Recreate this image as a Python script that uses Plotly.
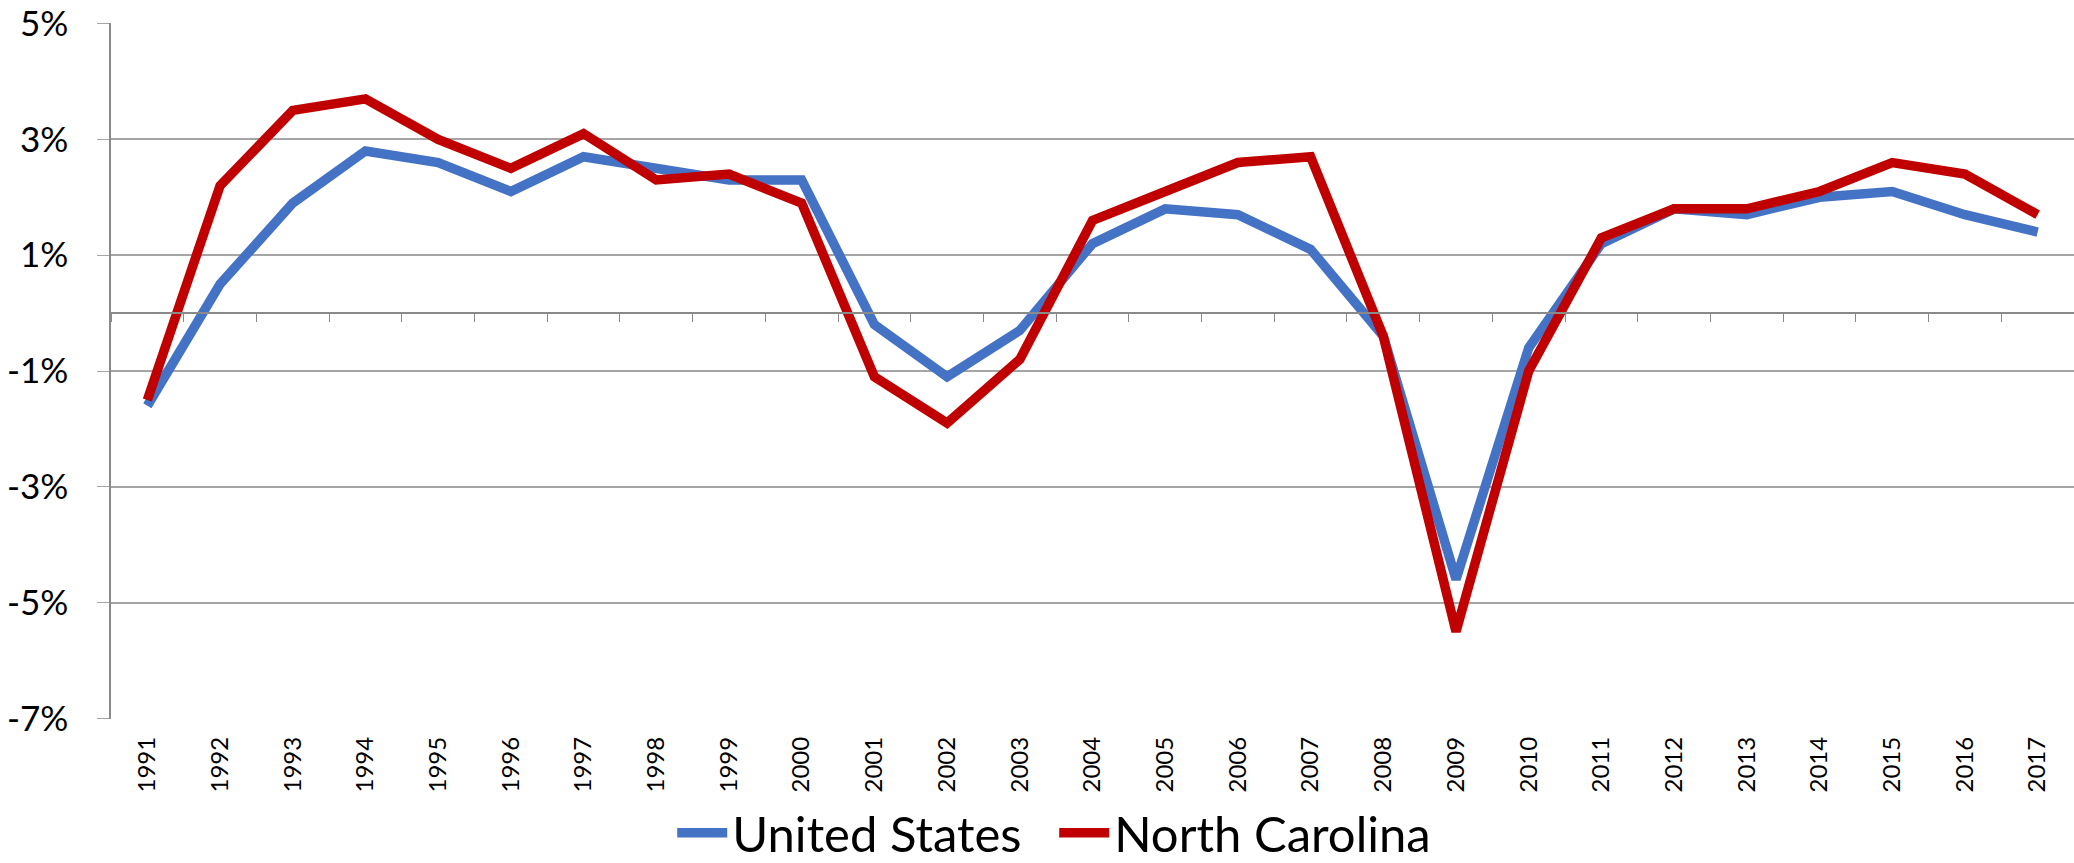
import plotly.graph_objects as go

years = list(range(1991, 2018))
us = [-1.6, 0.5, 1.9, 2.8, 2.6, 2.1, 2.7, 2.5, 2.3, 2.3,
      -0.2, -1.1, -0.3, 1.2, 1.8, 1.7, 1.1, -0.4, -4.6, -0.6,
      1.2, 1.8, 1.7, 2.0, 2.1, 1.7, 1.4]
nc = [-1.5, 2.2, 3.5, 3.7, 3.0, 2.5, 3.1, 2.3, 2.4, 1.9,
      -1.1, -1.9, -0.8, 1.6, 2.1, 2.6, 2.7, -0.4, -5.5, -1.0,
      1.3, 1.8, 1.8, 2.1, 2.6, 2.4, 1.7]
y_ticks = [-7, -5, -3, -1, 1, 3, 5]
y_labels = [f"{v}%" for v in y_ticks]

FONT = "Lato"
GRID = "#A5A5A5"
AXIS = "#8A8A8A"

fig = go.Figure()
fig.add_trace(go.Scatter(x=years, y=us, mode="lines", name="United States",
                         line=dict(color="#4472C4", width=9.5)))
fig.add_trace(go.Scatter(x=years, y=nc, mode="lines", name="North Carolina",
                         line=dict(color="#C00000", width=9.5)))

xr = [years[0] - 0.5, years[-1] + 0.5]
fig.update_layout(
    width=2074, height=863,
    margin=dict(l=111, r=0, t=23, b=144, autoexpand=False),
    paper_bgcolor="white", plot_bgcolor="white",
    font=dict(family=FONT, color="black"),
    showlegend=True,
    legend=dict(orientation="h", x=0.4805, xanchor="center", y=-0.1638, yanchor="middle",
                font=dict(size=49, family=FONT, color="black"), itemwidth=50,
                entrywidth=317),
    xaxis=dict(range=xr, tickmode="array", tickvals=years, ticktext=[str(y) for y in years],
               tickangle=-90, tickfont=dict(size=24, family=FONT), showgrid=False,
               zeroline=False, showline=False, ticks="", ticklabelstandoff=12),
    xaxis2=dict(overlaying="x", anchor="free", position=7/12, range=xr,
                tick0=xr[0], dtick=1, ticks="outside", ticklen=8, tickcolor=AXIS,
                showticklabels=False, showline=True, linecolor=AXIS, linewidth=1.5,
                showgrid=False, zeroline=False),
    yaxis=dict(range=[-7.01, 5.01], tickmode="array", tickvals=y_ticks, ticktext=y_labels,
               tickfont=dict(size=35, family=FONT), showgrid=True, gridcolor=GRID, gridwidth=1.8,
               zeroline=False, showline=True, linecolor=AXIS, linewidth=1.5,
               ticks="outside", ticklen=12, tickcolor=GRID, ticklabelstandoff=22,
               ticklabeloverflow="allow"),
)
fig.add_trace(go.Scatter(x=[years[0]], y=[None], xaxis="x2", showlegend=False,
                         hoverinfo="skip"))

fig.write_html("out.html", config={"displayModeBar": False},
               post_script="document.body.style.margin='0';")
